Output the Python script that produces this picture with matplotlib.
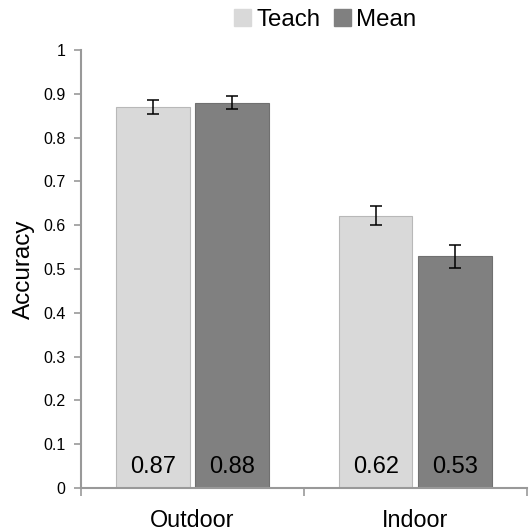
import matplotlib
matplotlib.use("Agg")
import matplotlib.pyplot as plt
import numpy as np
from matplotlib.patches import Patch

plt.rcParams['font.family'] = ['Liberation Sans', 'DejaVu Sans']

categories = ["Outdoor", "Indoor"]
series = ["Teach", "Mean"]
teach = [0.87, 0.622]
mean = [0.879, 0.529]
teach_err = [0.016, 0.021]
mean_err = [0.015, 0.026]
labels_teach = ["0.87", "0.62"]
labels_mean = ["0.88", "0.53"]
yticks = [0, 0.1, 0.2, 0.3, 0.4, 0.5, 0.6, 0.7, 0.8, 0.9, 1]
yticklabels = ["0", "0.1", "0.2", "0.3", "0.4", "0.5", "0.6", "0.7", "0.8", "0.9", "1"]

colors = ["#d9d9d9", "#808080"]
edges = ["#b8b8b8", "#707070"]

fig = plt.figure(figsize=(5.29, 5.31), dpi=100)
ax = fig.add_axes([0.153, 0.081, 0.843, 0.825])

x = np.arange(len(categories))
w = 0.33
off = 0.178
ax.bar(x - off, teach, w, color=colors[0], edgecolor=edges[0], linewidth=0.8)
ax.bar(x + off, mean, w, color=colors[1], edgecolor=edges[1], linewidth=0.8)
ax.errorbar(x - off, teach, yerr=teach_err, fmt='none', ecolor='black', elinewidth=1.1, capsize=4.3, capthick=1.1)
ax.errorbar(x + off, mean, yerr=mean_err, fmt='none', ecolor='black', elinewidth=1.1, capsize=4.3, capthick=1.1)

for xi, t in zip(x - off, labels_teach):
    ax.text(xi, 0.047, t, ha='center', va='center', fontsize=17, color='black')
for xi, t in zip(x + off, labels_mean):
    ax.text(xi, 0.047, t, ha='center', va='center', fontsize=17, color='black')

ax.set_xlim(-0.5, 1.5)
ax.set_ylim(0, 1)
ax.set_yticks(yticks)
ax.set_yticklabels(yticklabels, fontsize=11.5)
ax.set_xticks([-0.5, 0.5, 1.5])
ax.set_xticklabels([])
ax.set_xticks(x, minor=True)
ax.set_xticklabels(categories, minor=True, fontsize=16.8)
ax.tick_params(axis='x', which='minor', length=0, pad=15)
ax.tick_params(axis='x', which='major', length=6, color='#999999', width=1.2)
ax.tick_params(axis='y', length=5, color='#999999', width=1.2, pad=6)

for s in ['top', 'right']:
    ax.spines[s].set_visible(False)
for s in ['left', 'bottom']:
    ax.spines[s].set_color('#999999')
    ax.spines[s].set_linewidth(1.5)

ax.set_ylabel("Accuracy", fontsize=17.5, labelpad=6)

handles = [Patch(facecolor=colors[0], edgecolor=colors[0]), Patch(facecolor=colors[1], edgecolor=colors[1])]
fig.legend(handles, series, loc='center', bbox_to_anchor=(0.615, 0.963), ncol=2, frameon=False,
           fontsize=17.3, handlelength=0.7, handleheight=0.7, handletextpad=0.2, columnspacing=0.6)

fig.savefig("out.png", dpi=100)
